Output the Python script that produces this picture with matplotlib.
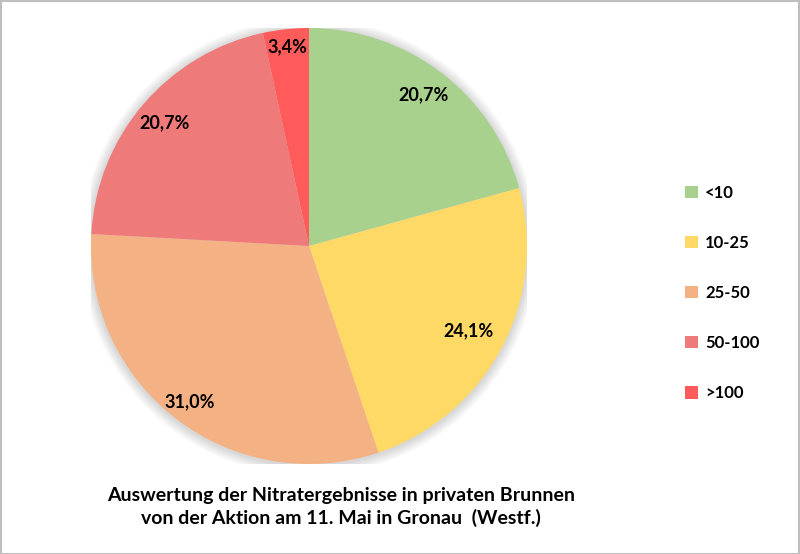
import matplotlib
matplotlib.use("Agg")
import numpy as np
import matplotlib.pyplot as plt
from matplotlib.patches import Circle, Rectangle

CATEGORIES = ["<10", "10-25", "25-50", "50-100", ">100"]
SHARES = [20.7, 24.1, 31.0, 20.7, 3.4]
COLORS = ["#A9D18E", "#FFD966", "#F4B183", "#EE7A7A", "#FF5B5B"]
TITLE = "Auswertung der Nitratergebnisse in privaten Brunnen\nvon der Aktion am 11. Mai in Gronau  (Westf.)"

W, H = 800, 554
CX, CY, R = 309, 246, 218
# radial placement of the percentage labels (Excel "best fit" look)
LABEL_RADII = [0.87, 0.83, 0.90, 0.87, 0.92]

plt.rcParams["font.family"] = ["Lato", "DejaVu Sans"]

fig = plt.figure(figsize=(W / 100, H / 100), dpi=100)
ax = fig.add_axes([(CX - R) / W, (H - CY - R) / H, 2 * R / W, 2 * R / H])

# soft shadow around the pie
for i in range(8):
    ax.add_patch(Circle((0, -0.005), 1.0 + 0.006 * (8 - i), color="black",
                        alpha=0.018, lw=0, zorder=0))

wedges, texts, autotexts = ax.pie(
    SHARES,
    colors=COLORS,
    startangle=90,
    counterclock=False,
    radius=1.0,
    autopct=lambda p: f"{p:.1f}%".replace(".", ","),
    pctdistance=0.86,
    wedgeprops={"linewidth": 0, "zorder": 2},
    textprops={"fontsize": 13, "fontweight": "bold", "color": "black"},
)
for w, t, rr in zip(wedges, autotexts, LABEL_RADII):
    mid = np.deg2rad((w.theta1 + w.theta2) / 2)
    t.set_position((rr * np.cos(mid), rr * np.sin(mid)))
    t.set_zorder(5)
ax.set_xlim(-1, 1)
ax.set_ylim(-1, 1)
ax.set_aspect("equal")
ax.axis("off")

leg = fig.legend(
    wedges,
    CATEGORIES,
    loc="center left",
    bbox_to_anchor=(670 / W, 1 - 293 / H),
    frameon=False,
    handlelength=0.75,
    handleheight=0.75,
    handletextpad=0.45,
    labelspacing=2.05,
    prop={"family": ["Lato", "DejaVu Sans"], "weight": "bold", "size": 12},
)

fig.text(341 / W, 1 - 507 / H, TITLE, ha="center", va="center",
         fontsize=14, fontweight="bold", linespacing=1.3)

fig.patches.append(Rectangle((0.5 / W, 0.5 / H), 1 - 1.5 / W, 1 - 1.5 / H,
                             transform=fig.transFigure, fill=False,
                             edgecolor="#BFBFBF", linewidth=1.5))

fig.savefig("out.png", dpi=100)
